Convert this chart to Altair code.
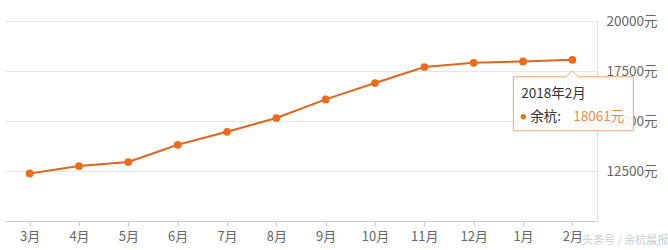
import altair as alt
import pandas as pd

months = ["3月", "4月", "5月", "6月", "7月", "8月", "9月", "10月", "11月", "12月", "1月", "2月"]
prices = [12380, 12750, 12950, 13810, 14460, 15150, 16080, 16900, 17700, 17910, 17980, 18061]

tip_title = "2018年2月"
tip_series = "余杭:"
tip_month = "2月"
tip_value = 18061

df = pd.DataFrame({"month": months, "price": prices})
tip = pd.DataFrame({
    "month": [tip_month],
    "price": [tip_value],
    "title": [tip_title],
    "series": [tip_series],
    "label": [f"{tip_value}元"],
})

FONT = "Noto Sans CJK SC"
ORANGE = "#ee6a1c"

xenc = alt.X("month:N", sort=months,
             scale=alt.Scale(type="point", padding=0.5),
             axis=alt.Axis(title=None, labelAngle=0, grid=False,
                           domainColor="#cccccc", tickColor="#cccccc",
                           tickSize=5, labelPadding=4, labelFontSize=13,
                           labelColor="#666666", labelFont=FONT))
yenc = alt.Y("price:Q",
             scale=alt.Scale(domain=[10000, 20000], nice=False, zero=False),
             axis=alt.Axis(title=None, orient="right",
                           values=[12500, 15000, 17500, 20000],
                           labelExpr="format(datum.value, 'd') + '元'",
                           ticks=False, labelPadding=9, labelFontSize=13.5,
                           labelColor="#666666", labelFont=FONT,
                           domainColor="#e0e0e0", gridColor="#e6e6e6"))

base = alt.Chart(df).encode(x=xenc, y=yenc)
line = base.mark_line(color="#e2651e", strokeWidth=2)
pts = base.mark_point(filled=True, size=60, color=ORANGE, opacity=1)

box_path = ("M -0.983 0.283 L -0.1 0.283 L 0 0.183 L 0.1 0.283 L 1.017 0.283 "
            "L 1.017 1.183 L -0.983 1.183 Z")
tipbase = alt.Chart(tip).encode(
    x=alt.X("month:N", sort=months),
    y=alt.Y("price:Q"),
)
box = tipbase.mark_point(shape=box_path, size=14400, filled=True,
                         fill="white", fillOpacity=0.88,
                         stroke="#f0a574", strokeWidth=1, strokeOpacity=1)
t1 = tipbase.mark_text(align="left", baseline="middle", dx=-51, dy=34,
                       fontSize=13.5, font=FONT, color="#333333").encode(text="title:N")
dot = tipbase.mark_point(filled=True, size=30, color="#e8751e", xOffset=-49, yOffset=57, opacity=1)
t2 = tipbase.mark_text(align="left", baseline="middle", dx=-42, dy=57,
                       fontSize=13.5, font=FONT, color="#333333").encode(text="series:N")
t3 = tipbase.mark_text(align="left", baseline="middle", dx=1, dy=57,
                       fontSize=13.5, font=FONT, color="#f08a4b").encode(text="label:N")

wm = alt.Chart(pd.DataFrame({"t": ["头条号 / 余杭晨报"]})).mark_text(
    align="left", baseline="middle", fontSize=11, font=FONT, color="#cccccc"
).encode(x=alt.value(577), y=alt.value(220), text="t:N")

chart = alt.layer(line, pts, box, t1, dot, t2, t3, wm).properties(
    width=592, height=200,
    padding={"left": 5, "top": 21, "right": 71, "bottom": 29},
    autosize=alt.AutoSizeParams(type="none"),
).configure_view(stroke=None)

chart.save("out.html", embed_options={"renderer": "svg", "actions": False})
